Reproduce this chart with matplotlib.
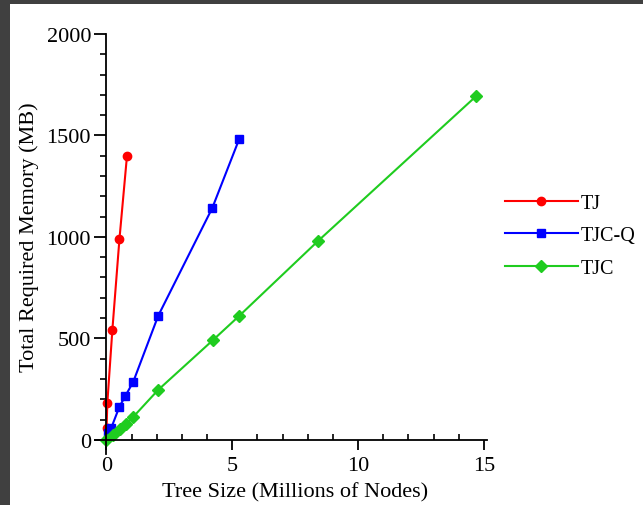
import matplotlib
matplotlib.use("Agg")
import matplotlib.pyplot as plt
from matplotlib.ticker import MultipleLocator
from matplotlib.patches import Rectangle

# Data
tj_x = [0.01, 0.04, 0.24, 0.52, 0.82]
tj_y = [60, 182, 542, 988, 1399]

tjcq_x = [0.05, 0.2, 0.52, 0.76, 1.07, 2.06, 4.21, 5.28]
tjcq_y = [35, 60, 163, 217, 286, 611, 1143, 1483]

tjc_x = [0.0, 0.28, 0.55, 0.8, 1.07, 2.06, 4.25, 5.28, 8.41, 14.7]
tjc_y = [0, 25, 54, 79, 113, 246, 493, 611, 980, 1695]

plt.rcParams['font.family'] = ['Liberation Serif', 'DejaVu Serif']

fig = plt.figure(figsize=(6.43, 5.06), dpi=100)
fig.patch.set_facecolor('#404040')
# white page with dark frame on the top and left
fig.patches.append(Rectangle((10 / 643, 0), 1, (506 - 5) / 506,
                             transform=fig.transFigure, facecolor='white',
                             edgecolor='none', zorder=-1))

ax = fig.add_axes([95 / 643, 1 - 455 / 506, 392 / 643, 420 / 506])
ax.set_facecolor('none')

ax.plot(tj_x, tj_y, color='#ff0000', marker='o', markersize=6, lw=1.5, label='TJ')
ax.plot(tjcq_x, tjcq_y, color='#0000ff', marker='s', markersize=6, lw=1.5, label='TJC-Q')
ax.plot(tjc_x, tjc_y, color='#1fcc1f', marker='D', markersize=6, lw=1.5, label='TJC')

ax.set_xlim(-0.45, 15.12)
ax.set_ylim(-70, 2000)

ax.spines['left'].set_position(('data', 0))
ax.spines['bottom'].set_position(('data', 0))
ax.spines['top'].set_visible(False)
ax.spines['right'].set_visible(False)
for s in ('left', 'bottom'):
    ax.spines[s].set_linewidth(1.3)

ax.xaxis.set_major_locator(MultipleLocator(5))
ax.xaxis.set_minor_locator(MultipleLocator(1))
ax.yaxis.set_major_locator(MultipleLocator(500))
ax.yaxis.set_minor_locator(MultipleLocator(100))

ax.tick_params(axis='x', which='major', direction='out', length=7, width=1.3, labelsize=16, pad=5)
ax.tick_params(axis='x', which='minor', direction='in', length=4, width=1.2)
ax.tick_params(axis='y', which='major', direction='out', length=9, width=1.3, labelsize=16, pad=2)
ax.tick_params(axis='y', which='minor', direction='out', length=4, width=1.2)

ax.set_xlabel('Tree Size (Millions of Nodes)', fontsize=16, va='center')
ax.set_ylabel('Total Required Memory (MB)', fontsize=16, va='center')
ax.xaxis.set_label_coords(0.51, -0.0905)
ax.yaxis.set_label_coords(-0.168, 0.519)

ax.legend(loc='center left', bbox_to_anchor=(1.0, 0.52), frameon=False,
          fontsize=14.5, handlelength=3.6, labelspacing=0.67, handletextpad=0.15)

fig.savefig('out.png', dpi=100, facecolor=fig.get_facecolor())
